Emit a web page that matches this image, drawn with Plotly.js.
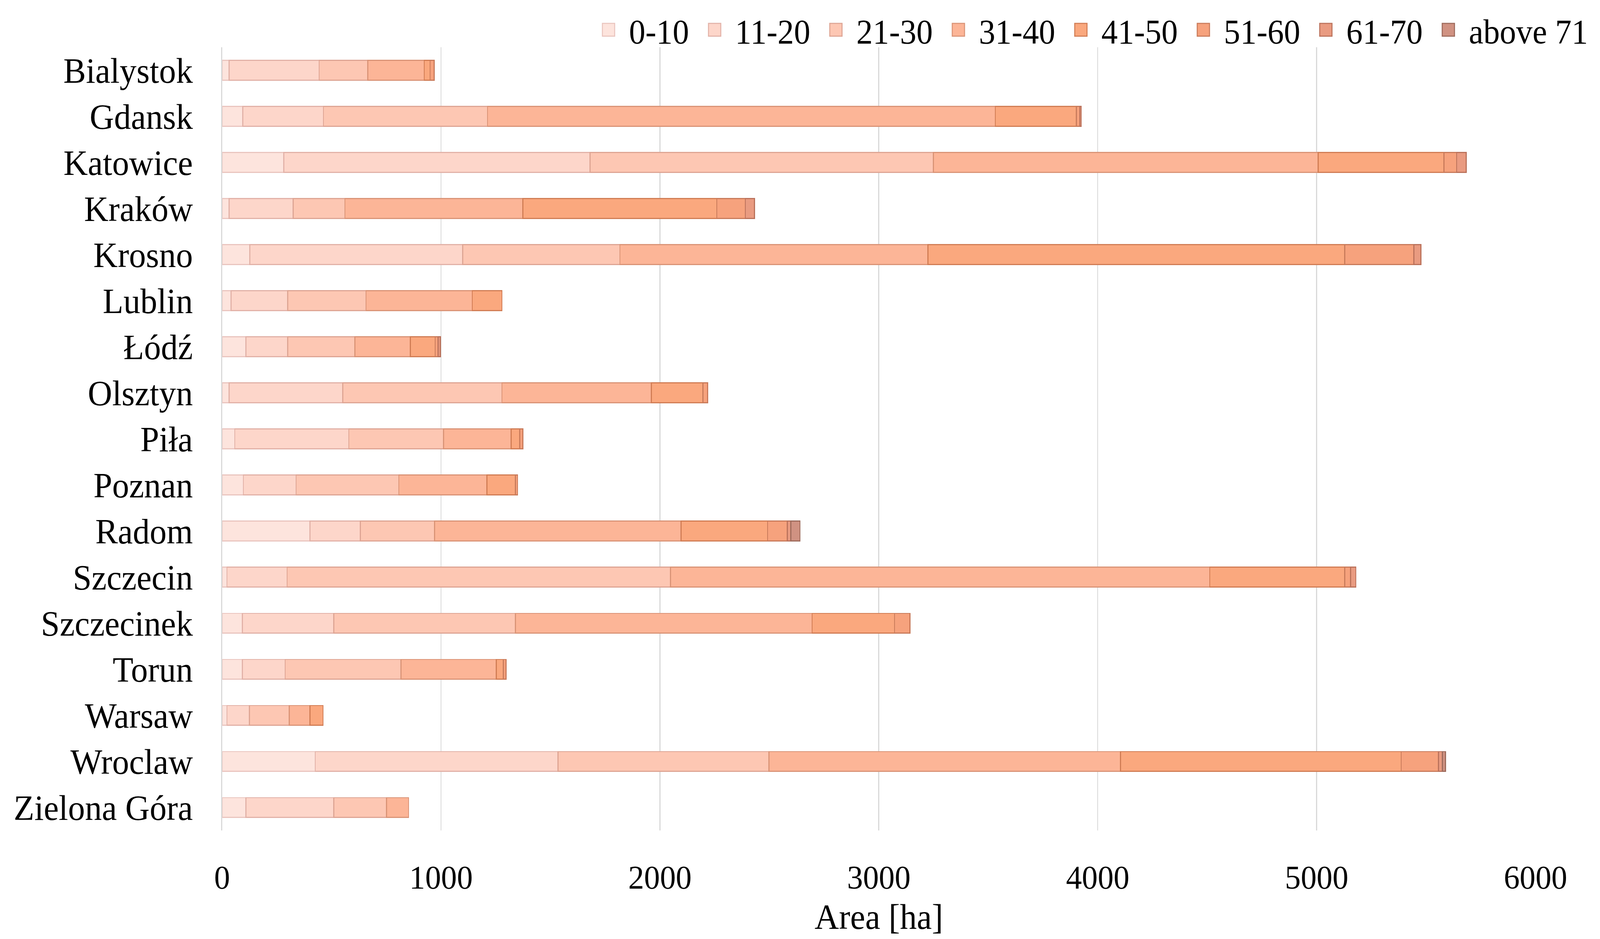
<!DOCTYPE html>
<html>
<head>
<meta charset="utf-8">
<script src="https://cdn.plot.ly/plotly-3.0.1.min.js"></script>
<style>
html,body{margin:0;padding:0;background:#fff;overflow:hidden;}
#wrap{position:absolute;left:0;top:0;transform-origin:0 0;}
#chart{width:1563px;height:875px;}
</style>
</head>
<body>
<div id="wrap"><div id="chart"></div></div>
<script>
const cities = ["Bialystok","Gdansk","Katowice","Kraków","Krosno","Lublin","Łódź","Olsztyn","Piła","Poznan","Radom","Szczecin","Szczecinek","Torun","Warsaw","Wroclaw","Zielona Góra"];
const seriesNames = ["0-10","11-20","21-30","31-40","41-50","51-60","61-70","above 71"];

const age0_10   = [32, 94, 282, 32, 126, 41, 109, 32, 58, 97, 401, 22, 92, 92, 22, 425, 109];
const age11_20  = [411, 369, 1399, 292, 973, 258, 190, 519, 521, 241, 230, 275, 418, 196, 103, 1109, 401];
const age21_30  = [222, 749, 1568, 237, 718, 358, 307, 727, 433, 469, 340, 1751, 830, 529, 182, 964, 241];
const age31_40  = [258, 2320, 1758, 813, 1407, 486, 254, 683, 308, 403, 1125, 2464, 1355, 436, 94, 1606, 101];
const age41_50  = [27, 371, 575, 886, 1904, 135, 113, 235, 40, 130, 396, 616, 377, 32, 60, 1282, 0];
const age51_60  = [19, 15, 58, 130, 316, 0, 13, 22, 14, 10, 90, 27, 70, 12, 0, 171, 0];
const age61_70  = [0, 7, 43, 42, 32, 0, 11, 0, 0, 0, 16, 24, 0, 0, 0, 18, 0];
const ageAbove71= [0, 0, 0, 0, 0, 0, 0, 0, 0, 0, 42, 0, 0, 0, 0, 14, 0];

const seriesValues = [age0_10, age11_20, age21_30, age31_40, age41_50, age51_60, age61_70, ageAbove71];
const fills   = ["#fde4dd","#fdd6ca","#fdc7b3","#fcb597","#faa87e","#f6a27d","#e99b81","#d09282"];
const borders = ["#eac5bf","#e2b2a8","#dea594","#da9477","#d17d55","#c97b5b","#bb725b","#9e6b5c"];

const FONT = "Liberation Serif, Times New Roman, serif";
const BASE_W = 1563, BASE_H = 875;

const kx = window.innerWidth / BASE_W;
const ky = window.innerHeight / BASE_H;
document.getElementById("wrap").style.transform = "scale(" + kx + "," + ky + ")";

const traces = seriesNames.map((name, i) => ({
  type: "bar",
  orientation: "h",
  name: name,
  y: cities,
  x: seriesValues[i].map(v => v === 0 ? null : v),
  marker: { color: fills[i], line: { color: borders[i], width: 1 } },
  hoverinfo: "x+y+name"
}));

const layout = {
  width: BASE_W,
  height: BASE_H,
  margin: { l: 217, r: 63, t: 44, b: 101, autoexpand: false },
  paper_bgcolor: "#ffffff",
  plot_bgcolor: "#ffffff",
  barmode: "stack",
  bargap: 0.57,
  font: { family: FONT, size: 32, color: "#000000" },
  xaxis: {
    range: [0, 6000],
    dtick: 1000,
    tick0: 0,
    showgrid: true,
    gridcolor: "#d9d9d9",
    gridwidth: 1,
    zeroline: false,
    showline: false,
    ticks: "",
    ticklabelstandoff: 22,
    tickfont: { family: FONT, size: 31, color: "#000" },
    title: { text: "Area [ha]", font: { family: FONT, size: 33, color: "#000" }, standoff: 8 }
  },
  yaxis: {
    autorange: "reversed",
    type: "category",
    showgrid: false,
    zeroline: false,
    showline: true,
    linecolor: "#d9d9d9",
    linewidth: 1,
    ticks: "",
    ticklabelstandoff: 21,
    tickfont: { family: FONT, size: 33, color: "#000" }
  },
  legend: {
    orientation: "h",
    xref: "paper",
    yref: "paper",
    x: 1.044,
    xanchor: "right",
    y: 1.022,
    yanchor: "middle",
    traceorder: "normal",
    font: { family: FONT, size: 32, color: "#000" },
    bgcolor: "rgba(0,0,0,0)"
  },
  showlegend: true
};

Plotly.newPlot("chart", traces, layout, { staticPlot: true, displayModeBar: false });
</script>
</body>
</html>
